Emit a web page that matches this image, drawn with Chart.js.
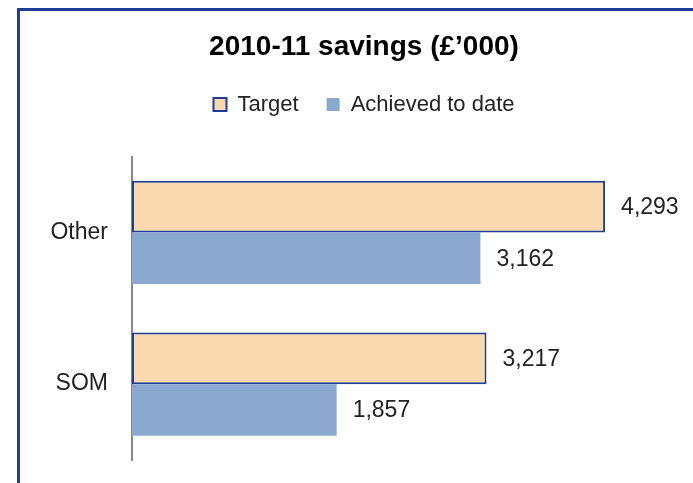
<!DOCTYPE html>
<html>
<head>
<meta charset="utf-8">
<script src="https://cdn.jsdelivr.net/npm/chart.js@4"></script>
<style>
  html, body { margin: 0; padding: 0; background: #fff; overflow: hidden; }
  #frame {
    position: absolute; left: 17px; top: 8px;
    width: 720px; height: 520px;
    border: 3px solid #1f3d93;
  }
  #chart { position: absolute; left: 0; top: 0; }
</style>
</head>
<body>
<div id="frame"></div>
<canvas id="chart" width="693" height="483"></canvas>
<script>
const categories = ["Other", "SOM"];
const target = [4293, 3217];
const achieved = [3162, 1857];

const FONT = "'Liberation Sans', Arial, sans-serif";

function fmt(v) {
    return String(v).replace(/\B(?=(\d{3})+(?!\d))/g, ",");
}

// value labels at the end of each bar
const valueLabels = {
    id: "valueLabels",
    afterDatasetsDraw(chart) {
        const ctx = chart.ctx;
        ctx.save();
        ctx.font = "23px " + FONT;
        ctx.fillStyle = "#222";
        ctx.textAlign = "left";
        ctx.textBaseline = "middle";
        chart.data.datasets.forEach((ds, i) => {
            chart.getDatasetMeta(i).data.forEach((bar, j) => {
                ctx.fillText(fmt(ds.data[j]), bar.x + 16, bar.y + 1);
            });
        });
        ctx.restore();
    }
};

const ctx = document.getElementById("chart").getContext("2d");
const chart = new Chart(ctx, {
    type: "bar",
    data: {
        labels: categories,
        datasets: [
            {
                label: "Target",
                data: target,
                backgroundColor: "#f9d8b0",
                borderColor: "#1f3d93",
                borderWidth: 2,
                borderSkipped: false
            },
            {
                label: "Achieved to date",
                data: achieved,
                backgroundColor: "#8ba8cf",
                borderWidth: 0
            }
        ]
    },
    options: {
        indexAxis: "y",
        responsive: false,
        animation: false,
        categoryPercentage: 0.68,
        barPercentage: 1.0,
        layout: { padding: { top: 30, left: 45, right: 10, bottom: 23 } },
        plugins: {
            title: {
                display: true,
                text: "2010-11 savings (£’000)",
                color: "#000",
                font: { family: FONT, size: 28, weight: "bold", lineHeight: 1.2 },
                padding: { top: 0, bottom: 2 }
            },
            legend: {
                display: true,
                labels: {
                    color: "#222",
                    font: { family: FONT, size: 22 },
                    boxWidth: 13,
                    boxHeight: 13,
                    padding: 28
                }
            },
            tooltip: { enabled: false }
        },
        scales: {
            x: {
                position: "top",
                min: 0,
                max: 5000,
                grid: { display: false, drawTicks: false },
                border: { display: false },
                ticks: { display: false },
                afterFit: s => { s.height = 31; }
            },
            y: {
                z: 1,
                grid: { display: false, drawTicks: true, tickLength: 20 },
                border: { display: true, color: "#888", width: 2 },
                ticks: {
                    color: "#222",
                    font: { family: FONT, size: 23 },
                    padding: 4
                },
                afterFit: s => { s.width = 87; }
            }
        }
    },
    plugins: [valueLabels]
});
</script>
</body>
</html>
